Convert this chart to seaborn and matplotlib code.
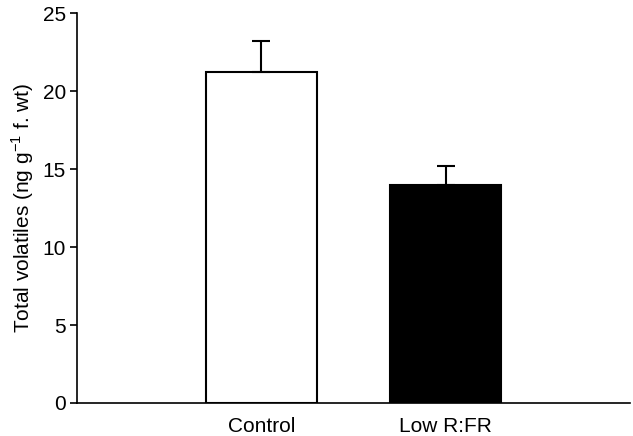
import matplotlib
matplotlib.use("Agg")
import matplotlib.pyplot as plt
import seaborn as sns
import pandas as pd
import numpy as np

treatments = ["Control", "Low R:FR"]
volatiles = [21.25, 14.0]
se = [1.95, 1.2]
bar_colors = ["white", "black"]

df = pd.DataFrame({"treatment": treatments, "volatiles": volatiles})

sns.set_style("ticks")
plt.rcParams["font.family"] = ["Liberation Sans", "DejaVu Sans"]
plt.rcParams["text.color"] = "black"
plt.rcParams["axes.labelcolor"] = "black"
plt.rcParams["xtick.color"] = "black"
plt.rcParams["ytick.color"] = "black"

fig = plt.figure(figsize=(6.33, 4.36), dpi=100)
ax = fig.add_axes([0.1216, 0.0757, 0.8734, 0.8943])

sns.barplot(data=df, x="treatment", y="volatiles", hue="treatment",
            palette=bar_colors, edgecolor="black", linewidth=1.5,
            width=0.605, errorbar=None, legend=False, ax=ax)

# upper error bars only
ax.errorbar(x=np.arange(len(treatments)), y=volatiles,
            yerr=[np.zeros(len(se)), se], fmt="none", ecolor="black",
            elinewidth=1.5, capsize=6.5, capthick=1.5, zorder=1)

ax.set_xlim(-1, 2)
ax.set_ylim(0, 25)
ax.set_yticks([0, 5, 10, 15, 20, 25])
ax.set_xlabel("")
ax.set_ylabel(r"Total volatiles (ng g$^{\mathregular{-1}}$ f. wt)", fontsize=15, labelpad=5)
ax.tick_params(axis="y", labelsize=15, length=5, width=1.2, pad=3)
ax.tick_params(axis="x", labelsize=15, length=0, pad=10)
for s in ["left", "bottom"]:
    ax.spines[s].set_linewidth(1.2)
    ax.spines[s].set_color("black")
sns.despine(ax=ax)

fig.savefig("out.png", dpi=100)
